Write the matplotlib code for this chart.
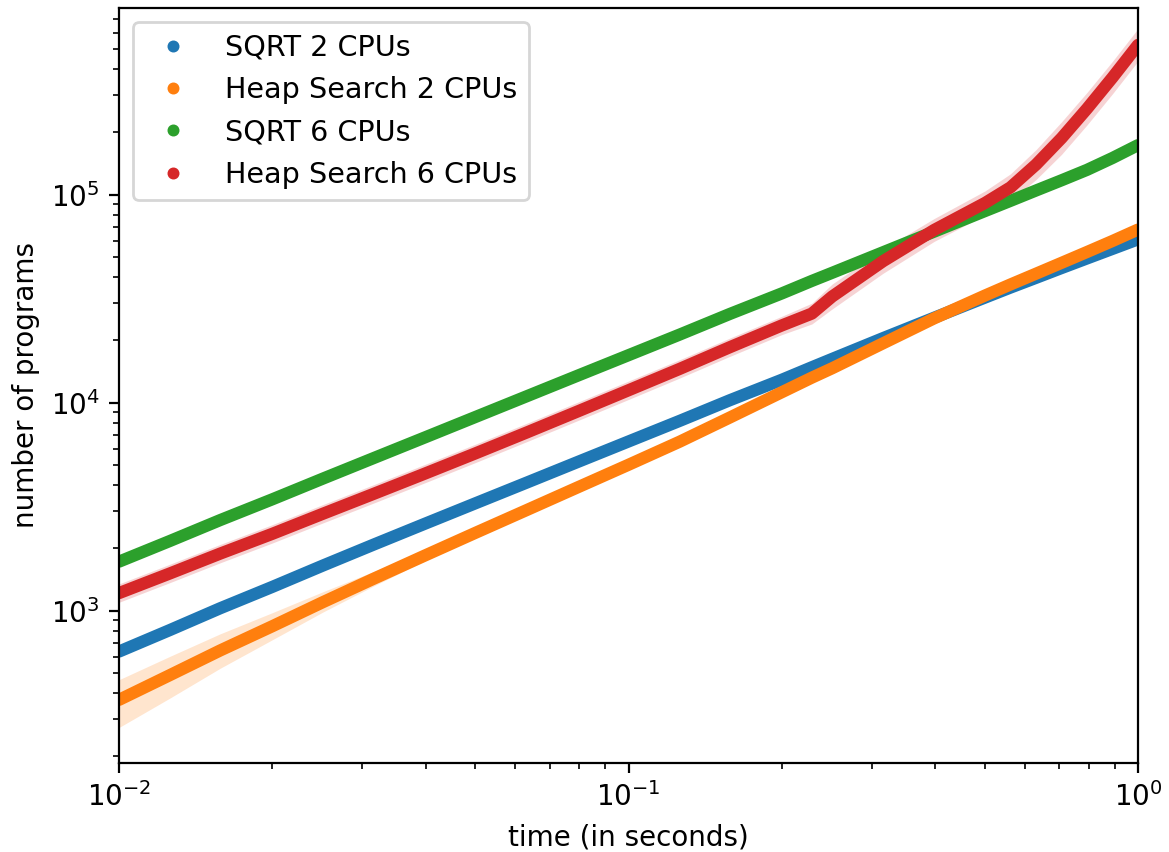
import matplotlib.pyplot as plt
from matplotlib.lines import Line2D

# time samples (seconds)
times = [0.01, 0.0126, 0.0158, 0.02, 0.0251, 0.0316, 0.0398, 0.0501, 0.0631, 0.0794,
         0.1, 0.126, 0.158, 0.2, 0.229, 0.251, 0.316, 0.398, 0.501, 0.562,
         0.631, 0.708, 0.794, 0.891, 1.0]

# number of programs enumerated (mean over runs)
sqrt_2 = [635, 807, 1026, 1300, 1644, 2075, 2612, 3281, 4121, 5176,
          6501, 8166, 10260, 12880, 14790, 16220, 20420, 25590, 31990, 35730,
          39810, 44360, 49320, 54830, 60950]
heap_2 = [372, 490, 643, 841, 1096, 1422, 1837, 2366, 3041, 3908,
          5023, 6486, 8472, 11220, 13180, 14620, 19280, 25410, 32730, 36980,
          41690, 46990, 52970, 59840, 67920]
sqrt_6 = [1718, 2163, 2723, 3428, 4305, 5408, 6792, 8531, 10720, 13460,
          16900, 21230, 26670, 33500, 38460, 42070, 52840, 66370, 83370, 93330,
          104700, 117200, 131500, 150000, 173000]
heap_6 = [1213, 1510, 1879, 2339, 2917, 3639, 4550, 5702, 7178, 9057,
          11460, 14520, 18450, 23500, 26790, 32360, 47860, 67610, 91200, 108400,
          139600, 187100, 258800, 365600, 524800]

# spread between runs
heap_2_lo = [274, 380, 528, 724, 982, 1312, 1734, 2259, 2938, 3776,
             4853, 6267, 8185, 10840, 12730, 14130, 18630, 24550, 31620, 35730,
             40280, 45400, 51180, 57820, 65620]
heap_2_hi = [465, 603, 773, 977, 1230, 1542, 1945, 2477, 3147, 4045,
             5199, 6713, 8769, 11610, 13640, 15130, 19950, 26300, 33880, 38270,
             43150, 48630, 54820, 61930, 70300]
heap_6_lo = [1096, 1364, 1697, 2113, 2635, 3287, 4110, 5151, 6484, 8182,
             10350, 13120, 16670, 21230, 23880, 28190, 41870, 59570, 79790, 93370,
             118300, 156300, 216200, 305400, 438400]
heap_6_hi = [1343, 1672, 2080, 2589, 3229, 4028, 5037, 6312, 7946, 10030,
             12690, 16070, 20420, 26010, 30060, 37150, 54700, 76740, 104200, 125900,
             164700, 224000, 309800, 437600, 628200]

labels = ['SQRT 2 CPUs', 'Heap Search 2 CPUs', 'SQRT 6 CPUs', 'Heap Search 6 CPUs']
colors = ['tab:blue', 'tab:orange', 'tab:green', 'tab:red']
series = [sqrt_2, heap_2, sqrt_6, heap_6]
bands = [None, (heap_2_lo, heap_2_hi), None, (heap_6_lo, heap_6_hi)]

fig = plt.figure(figsize=(5.845, 4.26), dpi=200)
ax = fig.add_axes([0.1018, 0.1045, 0.8717, 0.8862])

for y, band, c in zip(series, bands, colors):
    if band is not None:
        ax.fill_between(times, band[0], band[1], color=c, alpha=0.2, lw=0)
    ax.plot(times, y, color=c, lw=4.4, solid_capstyle='round')

ax.set_xscale('log')
ax.set_yscale('log')
ax.set_xlim(0.01, 1)
ax.set_ylim(185, 7.9e5)
ax.set_xlabel('time (in seconds)')
ax.set_ylabel('number of programs')

handles = [Line2D([], [], marker='o', ls='', ms=3.3, color=c) for c in colors]
ax.legend(handles, labels, loc='upper left', fontsize=10.3)

fig.savefig('out.png', dpi=200)
